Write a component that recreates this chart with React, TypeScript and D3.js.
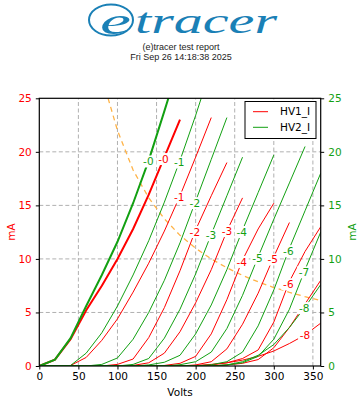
import { useEffect, useRef } from 'react';
import * as d3 from 'd3';

type Pt = [number, number];

// grid voltage labels, one per curve (index = step)
const gridSteps = ['-0', '-1', '-2', '-3', '-4', '-5', '-6', '-7', '-8'];

// HV1_I (red) plate curves, [volts, mA]
const hv1G0: Pt[] = [[0, 0], [20, 0.6], [40, 2.5], [60, 5.2], [80, 7.5], [100, 10.0], [120, 12.8], [140, 16.0], [160, 19.5], [180, 23.0]];
const hv1G1: Pt[] = [[0, 0], [20, 0], [40, 0.05], [60, 0.8], [80, 2.4], [100, 4.4], [120, 6.9], [140, 9.6], [160, 12.6], [180, 15.9], [200, 19.5], [220, 23.2]];
const hv1G2: Pt[] = [[0, 0], [80, 0], [100, 0.15], [120, 0.65], [140, 2.65], [160, 5.45], [180, 8.9], [200, 12.7], [220, 15.9], [240, 19.0]];
const hv1G3: Pt[] = [[0, 0], [100, 0], [120, 0.05], [140, 0.3], [160, 1.2], [180, 3.2], [200, 5.9], [220, 9.0], [240, 12.6], [260, 15.7]];
const hv1G4: Pt[] = [[0, 0], [140, 0], [160, 0.05], [180, 0.25], [200, 0.9], [220, 3.0], [240, 6.2], [260, 9.9], [280, 12.8], [300, 15.2]];
const hv1G5: Pt[] = [[0, 0], [180, 0], [200, 0.1], [220, 0.4], [240, 1.6], [260, 3.9], [280, 6.8], [300, 10.2], [320, 13.4]];
const hv1G6: Pt[] = [[0, 0], [200, 0], [220, 0.1], [240, 0.3], [260, 0.7], [280, 1.5], [300, 4.1], [320, 7.9], [340, 10.7], [360, 13.0]];
const hv1G7: Pt[] = [[0, 0], [220, 0], [240, 0.1], [260, 0.25], [280, 0.6], [300, 1.7], [320, 3.6], [340, 5.8], [360, 8.0]];
const hv1G8: Pt[] = [[0, 0], [180, 0], [200, 0.05], [220, 0.15], [240, 0.3], [260, 0.55], [280, 0.9], [300, 1.4], [320, 2.1], [340, 2.9], [360, 4.0]];

// HV2_I (green) plate curves, [volts, mA]
const hv2G0: Pt[] = [[0, 0], [20, 0.6], [40, 2.6], [60, 5.6], [80, 8.5], [100, 11.6], [120, 15.2], [140, 19.2], [160, 23.8], [180, 28.5]];
const hv2G1: Pt[] = [[0, 0], [20, 0], [40, 0.05], [60, 1.2], [80, 3.1], [100, 5.6], [120, 8.5], [140, 11.7], [160, 15.3], [180, 19.2], [200, 23.4], [220, 27.9]];
const hv2G2: Pt[] = [[0, 0], [60, 0], [80, 0.15], [100, 0.75], [120, 2.5], [140, 5.0], [160, 8.0], [180, 11.5], [200, 15.4], [220, 19.3], [240, 23.2]];
const hv2G3: Pt[] = [[0, 0], [100, 0], [120, 0.15], [140, 0.7], [160, 2.6], [180, 5.3], [200, 8.6], [220, 12.3], [240, 15.9], [260, 19.5]];
const hv2G4: Pt[] = [[0, 0], [120, 0], [140, 0.1], [160, 0.35], [180, 1.0], [200, 3.0], [220, 5.7], [240, 9.0], [260, 12.7], [280, 16.2], [300, 19.7]];
const hv2G5: Pt[] = [[0, 0], [160, 0], [180, 0.12], [200, 0.4], [220, 1.3], [240, 3.5], [260, 6.6], [280, 10.2], [300, 13.7], [320, 17.1], [340, 20.5]];
const hv2G6: Pt[] = [[0, 0], [200, 0], [220, 0.12], [240, 0.4], [260, 1.3], [280, 3.75], [300, 7.1], [320, 11.0], [340, 14.5], [360, 18.0]];
const hv2G7: Pt[] = [[0, 0], [220, 0], [240, 0.1], [260, 0.3], [280, 0.9], [300, 2.5], [320, 5.3], [340, 9.0], [360, 12.5]];
const hv2G8: Pt[] = [[0, 0], [220, 0], [240, 0.1], [260, 0.4], [280, 1.0], [300, 2.0], [320, 3.6], [340, 5.5], [360, 7.6]];

const hv1Curves = [hv1G0, hv1G1, hv1G2, hv1G3, hv1G4, hv1G5, hv1G6, hv1G7, hv1G8];
const hv2Curves = [hv2G0, hv2G1, hv2G2, hv2G3, hv2G4, hv2G5, hv2G6, hv2G7, hv2G8];

// volts at which each curve carries its grid label (null = not shown)
const hv1LabelV: (number | null)[] = [159, 179, 199, 240, 259, 298.5, 318.6, null, 340];
const hv2LabelV: (number | null)[] = [139.5, 179, 199, 219.5, 259, 279, 318.6, 338.6, 339];

// max anode dissipation curve, [volts, mA]
const dissipation: Pt[] = [[88, 25], [100, 22], [120, 18.3], [140, 15.7], [160, 13.75], [180, 12.2], [200, 11], [220, 10], [240, 9.17], [260, 8.46], [280, 7.86], [300, 7.33], [320, 6.88], [340, 6.47], [360, 6.11]];

const xTicks = [0, 50, 100, 150, 200, 250, 300, 350];
const yTicks = [0, 5, 10, 15, 20, 25];

const RED = '#ff0000';
const GREEN = '#12a012';
const LOGO = '#1a80b6';
const FONT = '"DejaVu Sans", sans-serif';
const TITLE_FONT = '"Liberation Sans", Arial, sans-serif';
const LOGO_FONT = '"Liberation Serif", serif';

const x = d3.scaleLinear().domain([0, 360]).range([39.3, 320.7]);
const y = d3.scaleLinear().domain([0, 25]).range([366, 98.3]);

const line = d3.line<Pt>().x(d => x(d[0])).y(d => y(d[1]));

function valueAt(pts: Pt[], v: number) {
  const i = d3.bisector((d: Pt) => d[0]).left(pts, v);
  if (i <= 0) return pts[0][1];
  if (i >= pts.length) return pts[pts.length - 1][1];
  const [x0, y0] = pts[i - 1];
  const [x1, y1] = pts[i];
  return y0 + ((v - x0) / (x1 - x0)) * (y1 - y0);
}

function CurveLabels({ curves, labelV, color }: { curves: Pt[][]; labelV: (number | null)[]; color: string }) {
  return (
    <g>
      {curves.map((pts, i) => {
        const v = labelV[i];
        if (v == null) return null;
        const cx = x(v);
        const cy = y(valueAt(pts, v));
        return (
          <g key={i}>
            <rect x={cx - 7} y={cy - 6} width={14} height={12} fill="#fff" />
            <text x={cx} y={cy} dy="0.36em" textAnchor="middle" fontSize={10.5} fontFamily={FONT} fill={color}>
              {gridSteps[i]}
            </text>
          </g>
        );
      })}
    </g>
  );
}

export default function App() {
  const bottomRef = useRef<SVGGElement>(null);
  const leftRef = useRef<SVGGElement>(null);
  const rightRef = useRef<SVGGElement>(null);

  useEffect(() => {
    const style = (g: d3.Selection<SVGGElement, unknown, null, undefined>, color: string) => {
      g.select('.domain').remove();
      g.attr('font-size', 10.5).attr('font-family', FONT);
      g.selectAll('line').attr('stroke', '#000');
      g.selectAll('text').attr('fill', color);
    };
    style(d3.select(bottomRef.current!).call(d3.axisBottom(x).tickValues(xTicks).tickSize(3.5).tickPadding(3)), '#000');
    style(d3.select(leftRef.current!).call(d3.axisLeft(y).tickValues(yTicks).tickSize(3.5).tickPadding(4)), RED);
    style(d3.select(rightRef.current!).call(d3.axisRight(y).tickValues(yTicks).tickSize(3.5).tickPadding(4)), GREEN);
  }, []);

  const [x0, x1] = x.range();
  const [y0, y1] = y.range();

  return (
    <svg width={363} height={400} style={{ position: 'absolute', left: 0, top: 0, background: '#fff' }}>
      <defs>
        <clipPath id="plot">
          <rect x={x0} y={y1} width={x1 - x0} height={y0 - y1} />
        </clipPath>
      </defs>

      {/* logo */}
      <ellipse cx={111} cy={20} rx={22} ry={15.5} fill="none" stroke={LOGO} strokeWidth={2} />
      <text x={100} y={33.5} fontSize={37} fontFamily={LOGO_FONT} fontStyle="italic" fill={LOGO} textLength={31} lengthAdjust="spacingAndGlyphs">e</text>
      <text x={135} y={33} fontSize={36} fontFamily={LOGO_FONT} fontStyle="italic" fill={LOGO} textLength={142} lengthAdjust="spacingAndGlyphs">tracer</text>

      <text x={181} y={49.5} textAnchor="middle" fontSize={9} fontFamily={TITLE_FONT} fill="#222">(e)tracer test report</text>
      <text x={181} y={59.5} textAnchor="middle" fontSize={9} fontFamily={TITLE_FONT} fill="#222">Fri Sep 26 14:18:38 2025</text>

      {/* grid */}
      <g stroke="#b0b0b0" strokeWidth={1} strokeDasharray="4,2.5">
        {xTicks.filter(t => t > 0).map(t => (
          <line key={'gx' + t} x1={x(t)} x2={x(t)} y1={y0} y2={y1} />
        ))}
        {yTicks.filter(t => t > 0 && t < 25).map(t => (
          <line key={'gy' + t} x1={x0} x2={x1} y1={y(t)} y2={y(t)} />
        ))}
      </g>

      <g clipPath="url(#plot)" fill="none">
        <path d={line(dissipation) ?? ''} stroke="#ffb347" strokeWidth={1.3} strokeDasharray="5,4" />
        {hv1Curves.map((pts, i) => (
          <path key={'r' + i} d={line(pts) ?? ''} stroke={RED} strokeWidth={i === 0 ? 2 : 1} />
        ))}
        {hv2Curves.map((pts, i) => (
          <path key={'g' + i} d={line(pts) ?? ''} stroke={GREEN} strokeWidth={i === 0 ? 2 : 1} />
        ))}
      </g>

      <CurveLabels curves={hv2Curves} labelV={hv2LabelV} color={GREEN} />
      <CurveLabels curves={hv1Curves} labelV={hv1LabelV} color={RED} />

      {/* frame */}
      <rect x={x0} y={y1} width={x1 - x0} height={y0 - y1} fill="none" stroke="#000" strokeWidth={1.2} />

      <g ref={bottomRef} transform={`translate(0,${y0})`} />
      <g ref={leftRef} transform={`translate(${x0},0)`} />
      <g ref={rightRef} transform={`translate(${x1},0)`} />

      <text x={(x0 + x1) / 2} y={396} textAnchor="middle" fontSize={10.5} fontFamily={FONT} fill="#000">Volts</text>
      <text transform={`translate(15,${(y0 + y1) / 2}) rotate(-90)`} textAnchor="middle" fontSize={10.5} fontFamily={FONT} fill={RED}>mA</text>
      <text transform={`translate(356,${(y0 + y1) / 2}) rotate(-90)`} textAnchor="middle" fontSize={10.5} fontFamily={FONT} fill={GREEN}>mA</text>

      {/* legend */}
      <g transform="translate(245,101.5)">
        <rect width={71} height={37} fill="#fff" stroke="#000" strokeWidth={1} />
        <line x1={8} x2={23} y1={10.2} y2={10.2} stroke={RED} strokeWidth={1} />
        <line x1={8} x2={23} y1={25.8} y2={25.8} stroke={GREEN} strokeWidth={1} />
        <text x={35} y={10.2} dy="0.36em" fontSize={10.5} fontFamily={FONT} fill="#000">HV1_I</text>
        <text x={35} y={25.8} dy="0.36em" fontSize={10.5} fontFamily={FONT} fill="#000">HV2_I</text>
      </g>
    </svg>
  );
}
